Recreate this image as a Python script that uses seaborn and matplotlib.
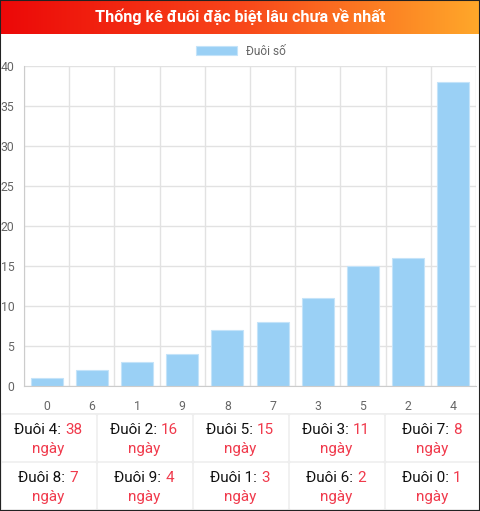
import matplotlib
matplotlib.use("Agg")
import matplotlib.pyplot as plt
import seaborn as sns
import numpy as np
import pandas as pd
from matplotlib.colors import LinearSegmentedColormap
from matplotlib.patches import Rectangle

# data
tails = ['0', '6', '1', '9', '8', '7', '3', '5', '2', '4']
days = [1, 2, 3, 4, 7, 8, 11, 15, 16, 38]
title = "Thống kê đuôi đặc biệt lâu chưa về nhất"
legend_label = "Đuôi số"

df = pd.DataFrame({'tail': tails, 'days': days})

sns.set_style("white")
plt.rcParams['font.family'] = ['Roboto', 'DejaVu Sans']

W, H = 480, 511
fig = plt.figure(figsize=(W / 100, H / 100), dpi=100)

# header with gradient
hdr = fig.add_axes([0, 1 - 34 / H, 1, 34 / H])
cmap = LinearSegmentedColormap.from_list('hdr', ['#ec0808', '#f8461a', '#ffa82a'])
hdr.imshow(np.linspace(0, 1, 256).reshape(1, -1), aspect='auto', cmap=cmap, extent=[0, 1, 0, 1])
hdr.set_axis_off()
hdr.text(0.5, 0.5, title, color='white', fontsize=11.6, fontweight='bold', ha='center', va='center')

# bar chart
ax = fig.add_axes([24 / W, (H - 386) / H, 452 / W, 320 / H])
sns.barplot(data=df, x='tail', y='days', order=tails, color='#9ad0f5', width=0.71,
            saturation=1, edgecolor='#c4e3f9', linewidth=0.8, ax=ax, label=legend_label)
ax.set_xlim(-0.5, len(tails) - 0.5)
ax.set_ylim(0, 40)
ax.set_yticks(range(0, 41, 5))
ax.set_xlabel('')
ax.set_ylabel('')
ax.set_xticks(np.arange(-0.5, len(tails), 1), minor=True)
ax.grid(False)
ax.grid(True, which='minor', axis='x', color='#e2e2e2', lw=1)
ax.grid(True, which='major', axis='y', color='#e2e2e2', lw=1)
ax.set_axisbelow(True)
ax.tick_params(axis='x', which='major', length=0, pad=10, labelsize=8.8, labelcolor='#666666')
ax.tick_params(axis='x', which='minor', length=6, color='#e2e2e2', width=1)
ax.tick_params(axis='y', length=6, color='#e2e2e2', width=1, pad=1, labelsize=8.8, labelcolor='#666666')
for s in ['top', 'right']:
    ax.spines[s].set_visible(False)
ax.spines['left'].set_color('#cccccc')
ax.spines['bottom'].set_color('#cccccc')
ax.legend(loc='lower center', bbox_to_anchor=(0.48, 1.0), frameon=False, fontsize=8.6,
          labelcolor='#666666', handlelength=3.4, handleheight=0.9, borderaxespad=0.3)

# table of tails below
tb = fig.add_axes([0, 0, 1, 98 / H])
tb.set_xlim(0, W)
tb.set_ylim(H, 413)
tb.set_axis_off()
tb.add_patch(Rectangle((0, 413), W, 98, color='#eeeeee', zorder=0))
order = sorted(range(len(days)), key=lambda i: -days[i])
renderer = fig.canvas.get_renderer()
fs = 11
red = '#f03a4c'
for k, i in enumerate(order):
    r, c = divmod(k, 5)
    x0 = c * 96 + 1.5
    y0 = 415 + r * 48
    tb.add_patch(Rectangle((x0, y0), 93, 45, color='white', zorder=1))
    cx = x0 + 46.5
    t1 = tb.text(0, 0, f"Đuôi {tails[i]}: ", fontsize=fs, color='#111111')
    t2 = tb.text(0, 0, f"{days[i]}", fontsize=fs, color=red)
    w1 = t1.get_window_extent(renderer).width
    w2 = t2.get_window_extent(renderer).width
    left = cx - (w1 + w2) / 2
    t1.set_position((left, y0 + 15))
    t1.set_va('center')
    t2.set_position((left + w1, y0 + 15))
    t2.set_va('center')
    tb.text(cx, y0 + 34, "ngày", fontsize=fs, color=red, ha='center', va='center')

# outer frame
fig.add_artist(Rectangle((0, 0), 1, 1, transform=fig.transFigure, fill=False,
                         edgecolor='#222222', lw=1.5))

fig.savefig('out.png', dpi=100)
